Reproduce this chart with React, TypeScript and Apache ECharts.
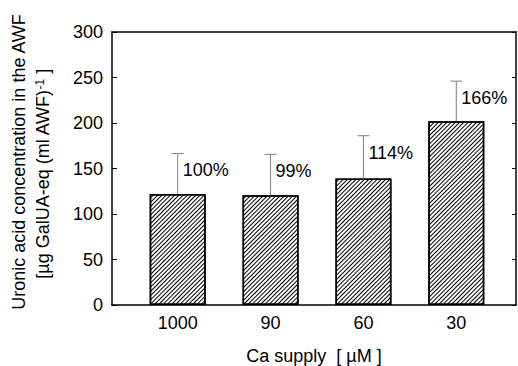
import React, { useEffect, useRef } from 'react';
import * as echarts from 'echarts';

const categories = ['1000', '90', '60', '30'];
const values = [122, 120.5, 139, 202];
const errors = [44.5, 45, 47, 44];
const percentLabels = ['100%', '99%', '114%', '166%'];
const yTitleLine1 = 'Uronic acid concentration in the AWF';
const yTitleLine2 = '[µg GalUA-eq (ml AWF)';
const yTitleSup = '-1';
const xTitle = 'Ca supply  [ µM ]';

const FONT = '"Liberation Sans", Arial, Helvetica, sans-serif';
const X_MIN = -0.7075;
const X_MAX = 3.643;

export default function App() {
  const ref = useRef<HTMLDivElement>(null);
  useEffect(() => {
    if (!ref.current) return;
    const chart = echarts.init(ref.current, undefined, { renderer: 'svg' });
    const barData = values.map((v, i) => [i, v]);
    const errData = values.map((v, i) => [i, v, errors[i]]);
    const axisLine = { show: true, onZero: false, lineStyle: { color: '#000', width: 1.5 } };
    chart.setOption({
      animation: false,
      backgroundColor: '#fff',
      textStyle: { fontFamily: FONT },
      grid: { left: 112, right: 2, top: 32, bottom: 61, containLabel: false, outerBoundsMode: 'none' },
      xAxis: [
        {
          type: 'value',
          min: X_MIN,
          max: X_MAX,
          position: 'bottom',
          axisLine,
          axisTick: { show: false },
          splitLine: { show: false },
          axisLabel: {
            customValues: [0, 1, 2, 3],
            formatter: (v: number) => categories[Math.round(v)] ?? '',
            color: '#000',
            fontSize: 18,
            fontFamily: FONT,
            margin: 9,
          },
          name: xTitle,
          nameLocation: 'middle',
          nameGap: 42,
          nameTextStyle: { color: '#000', fontSize: 18, fontFamily: FONT },
        },
        {
          type: 'value',
          min: X_MIN,
          max: X_MAX,
          position: 'top',
          axisLine,
          axisTick: { show: false },
          axisLabel: { show: false },
          splitLine: { show: false },
        },
      ],
      yAxis: [
        {
          type: 'value',
          min: 0,
          max: 300,
          interval: 50,
          position: 'left',
          axisLine,
          axisTick: { show: true, inside: true, length: 5, lineStyle: { color: '#000', width: 1 } },
          splitLine: { show: false },
          axisLabel: { color: '#000', fontSize: 18, fontFamily: FONT, margin: 9 },
        },
        {
          type: 'value',
          min: 0,
          max: 300,
          interval: 50,
          position: 'right',
          axisLine,
          axisTick: { show: true, inside: true, length: 4, lineStyle: { color: '#000', width: 1 } },
          splitLine: { show: false },
          axisLabel: { show: false },
        },
      ],
      series: [
        {
          type: 'bar',
          xAxisIndex: 0,
          yAxisIndex: 0,
          data: barData,
          barWidth: 56,
          itemStyle: {
            color: '#fff',
            borderColor: '#000',
            borderWidth: 1.5,
            decal: {
              symbol: 'rect',
              symbolSize: 1,
              dashArrayX: [[1, 0]],
              dashArrayY: [1, 2],
              rotation: -Math.PI / 4,
              color: '#000',
              backgroundColor: '#fff',
            },
          },
        },
        {
          type: 'custom',
          xAxisIndex: 0,
          yAxisIndex: 0,
          z: 5,
          data: errData,
          renderItem: (params: any, api: any) => {
            const x = api.value(0);
            const v = api.value(1);
            const e = api.value(2);
            const base = api.coord([x, v]);
            const top = api.coord([x, v + e]);
            return {
              type: 'group',
              children: [
                {
                  type: 'line',
                  shape: { x1: base[0], y1: base[1], x2: top[0], y2: top[1] },
                  style: { stroke: '#808080', lineWidth: 1 },
                },
                {
                  type: 'line',
                  shape: { x1: top[0] - 6, y1: top[1], x2: top[0] + 6, y2: top[1] },
                  style: { stroke: '#808080', lineWidth: 1 },
                },
                {
                  type: 'text',
                  style: {
                    text: percentLabels[params.dataIndex],
                    x: top[0] + 5,
                    y: top[1] + 17,
                    fill: '#000',
                    font: `18px ${FONT}`,
                    align: 'left',
                    verticalAlign: 'middle',
                  },
                },
              ],
            };
          },
        },
      ],
      graphic: [
        {
          type: 'text',
          x: 19,
          y: 162,
          rotation: Math.PI / 2,
          style: {
            text: yTitleLine1,
            fill: '#000',
            font: `18px ${FONT}`,
            align: 'center',
            verticalAlign: 'middle',
          },
        },
        {
          type: 'text',
          x: 43,
          y: 174,
          rotation: Math.PI / 2,
          style: {
            text: `{a|${yTitleLine2}}{s|${yTitleSup}}{a| ]}`,
            fill: '#000',
            align: 'center',
            verticalAlign: 'middle',
            rich: {
              a: { fontSize: 18, fontFamily: FONT, fill: '#000', color: '#000' },
              s: { fontSize: 12, fontFamily: FONT, fill: '#000', color: '#000', verticalAlign: 'top' },
            },
          },
        },
      ],
    });
    return () => chart.dispose();
  }, []);
  return <div ref={ref} style={{ position: 'fixed', left: 0, top: 0, width: 518, height: 366 }} />;
}
